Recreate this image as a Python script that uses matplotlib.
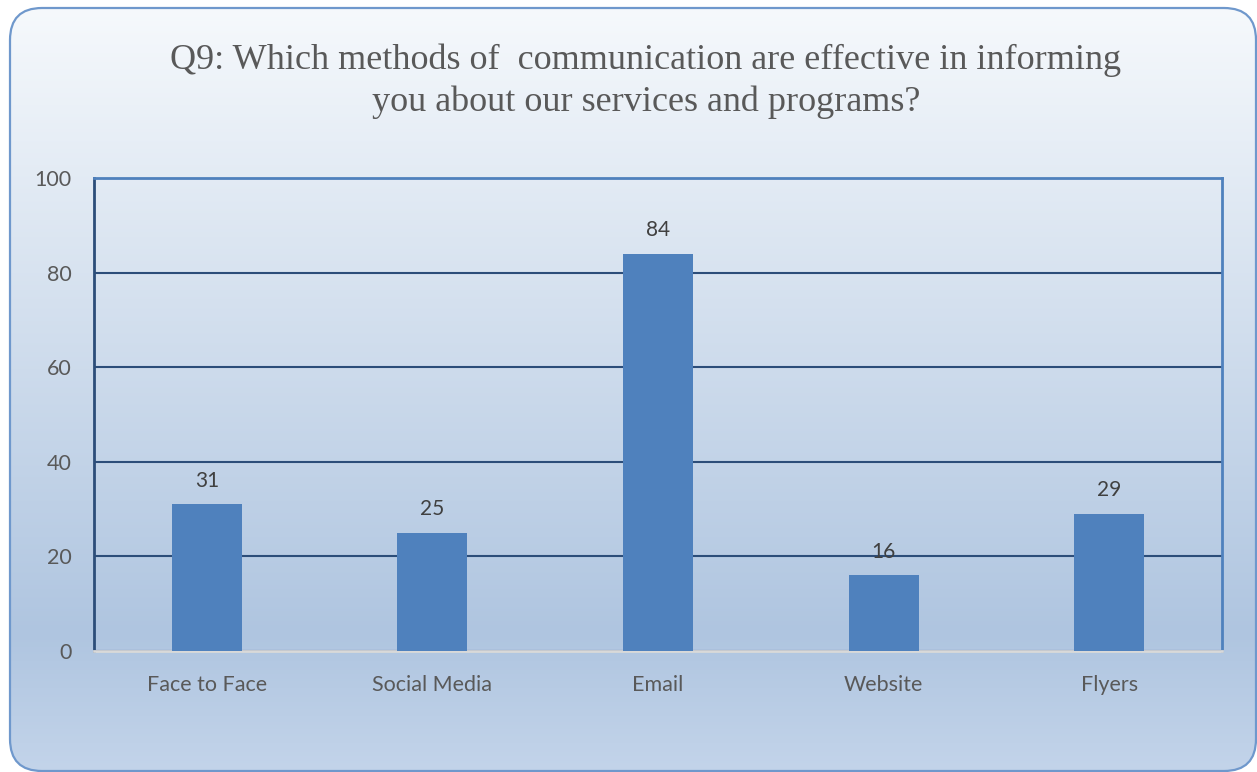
import numpy as np
import matplotlib.pyplot as plt
from matplotlib.patches import FancyBboxPatch

# survey responses
methods = ["Face to Face", "Social Media", "Email", "Website", "Flyers"]
responses = [31, 25, 84, 16, 29]
y_ticks = [0, 20, 40, 60, 80, 100]

title_lines = ["Q9: Which methods of  communication are effective in informing",
               "you about our services and programs?"]

W, H = 1257, 772
fig = plt.figure(figsize=(W / 100, H / 100), dpi=100)
fig.patch.set_facecolor("white")

# -----------------------------
# rounded panel with vertical gradient
# -----------------------------
bg = fig.add_axes([0, 0, 1, 1])
bg.set_xlim(0, W)
bg.set_ylim(H, 0)
bg.axis("off")

stops = [0.0, 0.82, 1.0]
cols = np.array([[0xf6, 0xf9, 0xfc], [0xaf, 0xc5, 0xe0], [0xc3, 0xd4, 0xea]]) / 255
t = np.linspace(0, 1, 512)
grad = np.stack([np.interp(t, stops, cols[:, c]) for c in range(3)], axis=1)
grad = np.repeat(grad[:, None, :], 2, axis=1)

box = dict(boxstyle="round,pad=0,rounding_size=32")
img = bg.imshow(grad, extent=(10, 1256, 771, 8), aspect="auto", zorder=1)
clip = FancyBboxPatch((10, 8), 1246, 763, transform=bg.transData,
                      facecolor="none", edgecolor="none", **box)
bg.add_patch(clip)
img.set_clip_path(clip)
bg.add_patch(FancyBboxPatch((10, 8), 1246, 763, facecolor="none", edgecolor="#6f98cc",
                            linewidth=1.6, zorder=3, **box))

for yy, line in zip([60, 102], title_lines):
    bg.text(646, yy, line, ha="center", va="center", fontsize=26, color="#595959",
            family="Liberation Serif")

# -----------------------------
# bar chart
# -----------------------------
left, right, ytop, ybot = 94, 1222, 178, 651
ax = fig.add_axes([left / W, (H - ybot) / H, (right - left) / W, (ybot - ytop) / H])
ax.patch.set_alpha(0)

x = np.arange(len(methods))
ax.bar(x, responses, width=0.31, color="#4f81bd", zorder=3)
for xi, v in zip(x, responses):
    ax.annotate(str(v), (xi, v), xytext=(0, 17), textcoords="offset points",
                ha="center", va="center", fontsize=15, color="#404040", family="Lato")

ax.set_xlim(-0.5, len(methods) - 0.5)
ax.set_ylim(0, 100)
ax.set_yticks(y_ticks)
ax.set_xticks(x)
ax.set_xticklabels(methods)
ax.yaxis.grid(True, color="#2c4d79", linewidth=1.5, zorder=0)
ax.set_axisbelow(True)
ax.tick_params(axis="both", length=0, labelsize=15.5, labelcolor="#595959")
ax.tick_params(axis="y", pad=16)
ax.tick_params(axis="x", pad=17.5)
for lab in ax.get_xticklabels() + ax.get_yticklabels():
    lab.set_family("Lato")

ax.spines["top"].set_color("#4f81bd")
ax.spines["right"].set_color("#4f81bd")
ax.spines["left"].set_color("#2c4d79")
ax.spines["bottom"].set_color("#d9d9d9")
for s in ax.spines.values():
    s.set_linewidth(2)

fig.savefig("out.png", dpi=100)
